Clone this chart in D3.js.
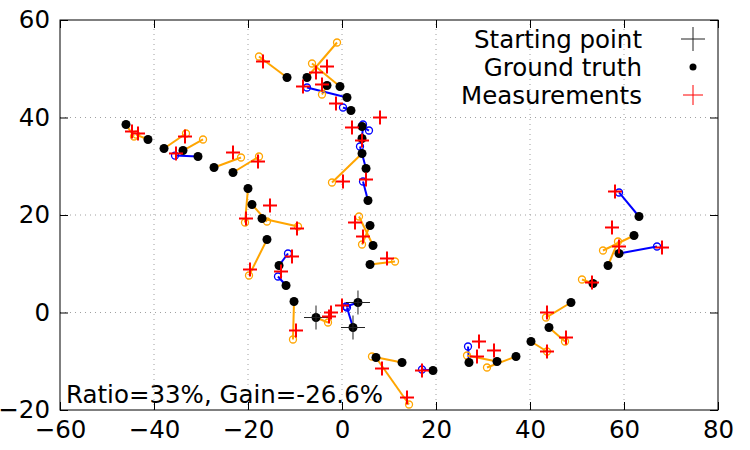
<!DOCTYPE html>
<html>
<head>
<meta charset="utf-8">
<script src="https://cdn.jsdelivr.net/npm/d3@7"></script>
<style>
  body { margin: 0; background: #fff; }
  text { font-family: "DejaVu Sans", sans-serif; }
</style>
</head>
<body>
<div id="chart"></div>
<script>
// ground truth positions
const truthX = [-45.96, -41.28, -37.87, -33.83, -30.64, -27.23, -23.19, -20.0, -19.15, -17.02, -15.96, -13.40, -11.91, -10.21, -5.53, 3.40, 2.34,
  -11.70, -7.45, -0.43, -3.19, 1.06, 1.91, 4.26, 4.26, 4.26, 5.11, 5.53, 5.96, 6.60, 5.96,
  12.77, 7.23, 19.36, 27.02, 32.98, 37.02, 40.21, 44.04, 48.72, 53.40, 56.60, 58.94, 62.13, 63.19];
const truthY = [38.56, 35.49, 33.64, 33.23, 32.0, 29.74, 28.72, 25.44, 22.15, 19.28, 14.97, 9.64, 5.54, 2.26, -1.03, 2.05, -3.08,
  48.21, 48.21, 46.36, 46.56, 44.10, 41.44, 38.15, 35.69, 32.62, 29.54, 22.97, 17.85, 13.74, 9.85,
  -10.26, -9.23, -11.90, -10.26, -10.05, -9.03, -5.95, -3.08, 2.05, 5.95, 9.64, 12.10, 15.79, 19.69];
// estimates, one per ground truth point
const estX = [-44.26, -43.8, -33.19, -29.57, -35.53, -21.49, -17.66, -20.64, -15.96, -9.36, -19.79, -11.49, -13.62, -10.43, -2.98, 0.85, 1.06,
  -17.66, -1.06, -6.38, -4.26, -7.45, 0.21, 5.74, 4.47, -2.13, 3.83, 4.47, 4.26, 3.62, 11.28,
  6.38, 14.26, 17.02, 26.81, 26.60, 30.85, 43.62, 47.45, 43.40, 51.06, 58.72, 67.02, 55.53, 58.94];
const estY = [36.10, 36.5, 36.72, 35.49, 32.2, 31.79, 32.0, 18.46, 18.67, 17.64, 7.59, 12.10, 7.38, -5.54, -2.05, 1.23, 1.03,
  52.51, 55.38, 51.08, 44.72, 46.15, 42.05, 37.33, 38.56, 26.67, 34.05, 26.87, 13.95, 19.69, 10.46,
  -9.03, -18.87, -11.69, -6.97, -8.82, -11.28, -8.0, -5.95, -1.03, 6.77, 14.56, 13.54, 12.72, 24.62];
// o = orange (measured), b = blue (predicted)
const estKind = ["o", "o", "o", "o", "b", "o", "o", "o", "o", "o", "o", "b", "b", "o", "o", "b", "b",
  "o", "o", "o", "o", "b", "b", "b", "b", "o", "b", "b", "o", "o", "o",
  "o", "o", "b", "b", "o", "o", "o", "o", "o", "o", "o", "b", "o", "b"];
// measurements
const measX = [-44.68, -43.40, -33.40, -35.32, -23.19, -17.87, -20.43, -15.32, -9.57, -19.57, -10.64, -12.98, -9.79, -2.34, -2.77, 0.0,
  -16.81, -3.19, -5.53, -4.26, -8.30, -1.28, 8.09, 2.13, 4.26, 0.21, 5.11, 2.77, 4.47, 9.57,
  8.51, 13.83, 17.02, 29.15, 28.72, 32.34, 43.62, 43.62, 47.66, 53.19, 58.09, 57.45, 58.94, 68.09];
const measY = [37.13, 36.72, 36.10, 32.62, 32.82, 30.97, 19.28, 21.95, 17.23, 8.82, 11.49, 8.41, -3.69, 0.0, -0.82, 1.44,
  51.49, 50.46, 49.23, 46.77, 46.36, 42.87, 40.0, 37.95, 35.28, 26.87, 27.28, 18.46, 15.59, 11.08,
  -11.49, -17.44, -11.90, -5.95, -9.03, -7.79, 0.0, -8.0, -5.13, 6.15, 24.82, 17.44, 13.54, 13.33];
// starting points
const startX = [-5.53, 3.40, 2.34];
const startY = [-1.03, 2.05, -3.08];

const xTicks = [-60, -40, -20, 0, 20, 40, 60, 80];
const yTicks = [-20, 0, 20, 40, 60];
const legendLabels = ["Starting point", "Ground truth", "Measurements"];
const note = "Ratio=33%, Gain=-26.6%";

const W = 750, H = 450;
const m = {left: 60, right: 32, top: 20, bottom: 40};
const fs = "24.5px";

const svg = d3.select("#chart").append("svg").attr("width", W).attr("height", H);

const x = d3.scaleLinear().domain([-60, 80]).range([m.left, W - m.right]);
const y = d3.scaleLinear().domain([-20, 60]).range([H - m.bottom, m.top]);

const colors = {o: "#ffa500", b: "#0000ff"};

// grid
const grid = svg.append("g").attr("stroke", "#a0a0a0").attr("stroke-width", 1).attr("stroke-dasharray", "1,4");
grid.selectAll(".gx").data(xTicks.slice(1, -1)).enter().append("line")
  .attr("x1", d => x(d)).attr("x2", d => x(d)).attr("y1", y(-20)).attr("y2", y(60));
grid.selectAll(".gy").data(yTicks.slice(1, -1)).enter().append("line")
  .attr("x1", x(-60)).attr("x2", x(80)).attr("y1", d => y(d)).attr("y2", d => y(d));

// axes with inward ticks, mirrored
const tl = 8;
svg.append("g").attr("class", "xb").attr("transform", `translate(0,${y(-20)})`)
  .call(d3.axisBottom(x).tickValues(xTicks).tickSize(-tl).tickPadding(11))
  .call(g => g.select(".domain").remove());
svg.append("g").attr("transform", `translate(0,${y(60)})`)
  .call(d3.axisTop(x).tickValues(xTicks).tickSize(-tl).tickFormat(""))
  .call(g => g.select(".domain").remove());
svg.append("g").attr("transform", `translate(${x(-60)},0)`)
  .call(d3.axisLeft(y).tickValues(yTicks).tickSize(-tl).tickPadding(10))
  .call(g => g.select(".domain").remove());
svg.append("g").attr("transform", `translate(${x(80)},0)`)
  .call(d3.axisRight(y).tickValues(yTicks).tickSize(-tl).tickFormat(""))
  .call(g => g.select(".domain").remove());
svg.selectAll(".tick line").attr("stroke", "#000");
svg.selectAll(".tick text").style("font-size", fs).attr("fill", "#000");

svg.append("rect").attr("x", x(-60)).attr("y", y(60))
  .attr("width", x(80) - x(-60)).attr("height", y(-20) - y(60))
  .attr("fill", "none").attr("stroke", "#000").attr("stroke-width", 1);

const idx = d3.range(truthX.length);

// segments from truth to estimate
svg.append("g").selectAll("line").data(idx).enter().append("line")
  .attr("x1", i => x(truthX[i])).attr("y1", i => y(truthY[i]))
  .attr("x2", i => x(estX[i])).attr("y2", i => y(estY[i]))
  .attr("stroke", i => colors[estKind[i]]).attr("stroke-width", 2);

// estimate circles
svg.append("g").selectAll("circle").data(idx).enter().append("circle")
  .attr("cx", i => x(estX[i])).attr("cy", i => y(estY[i])).attr("r", 3.5)
  .attr("fill", "none").attr("stroke", i => colors[estKind[i]]).attr("stroke-width", 1.3);

// ground truth dots
svg.append("g").selectAll("circle").data(idx).enter().append("circle")
  .attr("cx", i => x(truthX[i])).attr("cy", i => y(truthY[i])).attr("r", 4.5)
  .attr("fill", "#000");

function cross(g, cx, cy, s, color, w) {
  g.append("line").attr("x1", cx - s).attr("x2", cx + s).attr("y1", cy).attr("y2", cy)
    .attr("stroke", color).attr("stroke-width", w);
  g.append("line").attr("x1", cx).attr("x2", cx).attr("y1", cy - s).attr("y2", cy + s)
    .attr("stroke", color).attr("stroke-width", w);
}

// starting points
const sp = svg.append("g");
startX.forEach((d, i) => cross(sp, x(d), y(startY[i]), 12, "#222", 1));

// measurements
const mg = svg.append("g");
measX.forEach((d, i) => cross(mg, x(d), y(measY[i]), 7, "#ff0000", 2));

// legend
const lg = svg.append("g");
const rowY = [39, 67, 95];
legendLabels.forEach((t, i) => {
  lg.append("text").attr("x", 642).attr("y", rowY[i]).attr("dy", "0.36em")
    .attr("text-anchor", "end").style("font-size", fs).text(t);
});
cross(lg, 693, rowY[0], 12, "#222", 1);
lg.append("circle").attr("cx", 693).attr("cy", rowY[1]).attr("r", 3.5).attr("fill", "#000");
cross(lg, 693, rowY[2], 10, "#ff0000", 1);

// note
svg.append("text").attr("x", 66).attr("y", 403).style("font-size", fs).attr("fill", "#000").text(note);
</script>
</body>
</html>
